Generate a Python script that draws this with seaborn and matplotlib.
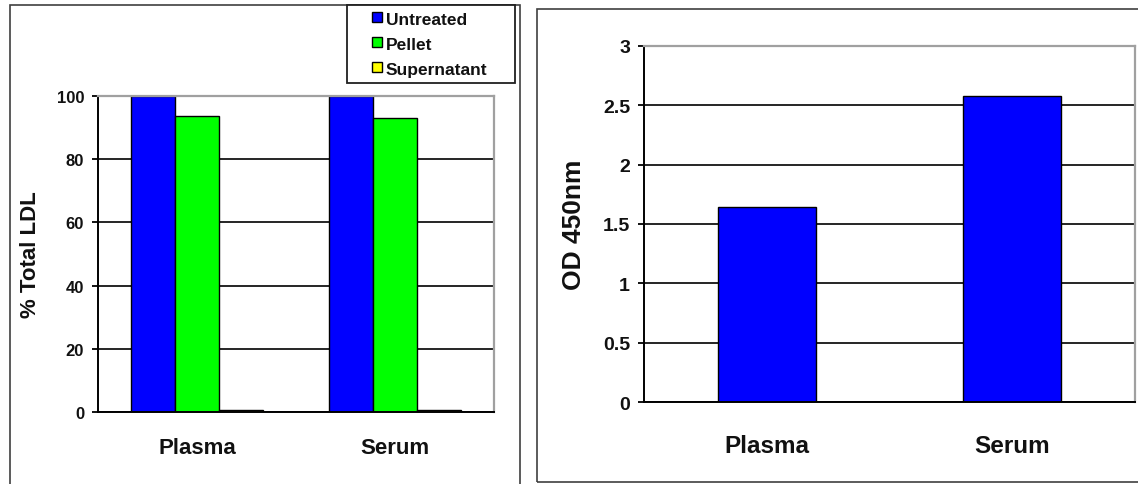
import matplotlib
matplotlib.use("Agg")
import matplotlib.pyplot as plt
from matplotlib.patches import Rectangle, Patch
import seaborn as sns
import pandas as pd

# ---- data ----
categories = ["Plasma", "Serum"]
treatments = ["Untreated", "Pellet", "Supernatant"]
untreated = [100, 100]
pellet = [93.7, 93.1]
supernatant = [0.6, 0.6]
od_values = [1.64, 2.58]
left_yticks = [0, 20, 40, 60, 80, 100]
right_yticks = [0, 0.5, 1, 1.5, 2, 2.5, 3]
right_yticklabels = ["0", "0.5", "1", "1.5", "2", "2.5", "3"]

colors = ["#0000FF", "#00FF00", "#FFFF00"]

sns.set_style("white")
plt.rcParams["font.family"] = ["Liberation Sans", "DejaVu Sans"]
plt.rcParams["font.weight"] = "bold"
TXT = "#111111"

W, H = 1138, 485
fig = plt.figure(figsize=(W / 100, H / 100), dpi=100)

def fx(px):
    return px / W

def fy(py):
    return 1 - py / H

# panel frames
fig.patches.append(Rectangle((fx(10), -0.05), fx(510), fy(6) + 0.05, transform=fig.transFigure,
                             fill=False, edgecolor="#404040", lw=1.2, zorder=0))
fig.patches.append(Rectangle((fx(537), fy(483)), fx(700), fy(10) - fy(483), transform=fig.transFigure,
                             fill=False, edgecolor="#404040", lw=1.2, zorder=0))

# ---- left chart ----
df = pd.DataFrame({
    "Sample": categories * 3,
    "Treatment": [t for t in treatments for _ in categories],
    "Value": untreated + pellet + supernatant,
})
ax1 = fig.add_axes([fx(98), fy(413), fx(494) - fx(98), fy(97) - fy(413)])
sns.barplot(data=df, x="Sample", y="Value", hue="Treatment", order=categories,
            hue_order=treatments, palette=colors, saturation=1, width=0.667, gap=0,
            edgecolor="black", linewidth=1.0, errorbar=None, legend=False, ax=ax1)

def style_axes(ax, ticks, ticklabels, ymax, tick_fs, cat_fs, cat_pad, ylabel, ylabel_fs, ylabel_x):
    ax.set_xlim(-0.5, 1.5)
    ax.set_ylim(0, ymax)
    ax.set_yticks(ticks)
    ax.set_yticklabels(ticklabels, fontsize=tick_fs, fontweight="bold", color=TXT)
    ax.set_xticks([0, 1])
    ax.set_xticklabels(categories, fontsize=cat_fs, fontweight="bold", color=TXT)
    ax.set_xticks([-0.5, 0.5, 1.5], minor=True)
    ax.tick_params(axis="x", which="major", length=0, pad=cat_pad)
    ax.tick_params(axis="x", which="minor", length=5, width=1.3, color="black", direction="out")
    ax.tick_params(axis="y", length=4.5, width=1.3, color="black", direction="out", pad=5.5, left=True)
    ax.set_xlabel("")
    ax.set_ylabel(ylabel, fontsize=ylabel_fs, fontweight="bold", color=TXT, va="center")
    ax.yaxis.set_label_coords(ylabel_x, 0.5)
    for s in ["left", "bottom"]:
        ax.spines[s].set_color("black")
        ax.spines[s].set_linewidth(1.4)
    for s in ["top", "right"]:
        ax.spines[s].set_color("#a0a0a0")
        ax.spines[s].set_linewidth(1.6)
        ax.spines[s].set_visible(True)
    ax.set_axisbelow(True)
    ax.yaxis.grid(True, color="black", linewidth=1.2)
    ax.xaxis.grid(False)
    ax.set_facecolor("white")

style_axes(ax1, left_yticks, [str(t) for t in left_yticks], 100, 12, 16, 18,
           "% Total LDL", 16, (31 - 98) / 396)


class SquareHandler:
    """Small square swatch placed at the right end of the handle box."""
    def legend_artist(self, legend, orig_handle, fontsize, handlebox):
        x0, y0 = handlebox.xdescent, handlebox.ydescent
        w, h = handlebox.width, handlebox.height
        s = 7.2
        patch = Rectangle((w - s - x0, (h - s) / 2 - y0 + 0.5), s, s,
                          facecolor=orig_handle.get_facecolor(), edgecolor="black",
                          linewidth=1.0, transform=handlebox.get_transform())
        handlebox.add_artist(patch)
        return patch


handles = [Patch(facecolor=c, edgecolor="black") for c in colors]
leg = fig.legend(handles, treatments, loc="upper left",
                 bbox_to_anchor=(fx(347), fy(83), fx(515) - fx(347), fy(6) - fy(83)),
                 mode="expand", borderaxespad=0, borderpad=0.4, handlelength=1.6,
                 handletextpad=0.25, labelspacing=0.55, fancybox=False, framealpha=1,
                 handler_map={Patch: SquareHandler()},
                 prop={"size": 12.5, "weight": "bold"})
leg.get_frame().set_edgecolor("#202020")
leg.get_frame().set_linewidth(1.3)
for t in leg.get_texts():
    t.set_color(TXT)

# ---- right chart ----
df2 = pd.DataFrame({"Sample": categories, "OD": od_values})
ax2 = fig.add_axes([fx(644), fy(403), fx(1135) - fx(644), fy(47) - fy(403)])
sns.barplot(data=df2, x="Sample", y="OD", order=categories, color="#0000FF",
            saturation=1, width=0.4, edgecolor="black", linewidth=1.0,
            errorbar=None, ax=ax2)
style_axes(ax2, right_yticks, right_yticklabels, 3, 14, 17.5, 23,
           "OD 450nm", 19, (574 - 644) / 491)

fig.savefig("out.png", dpi=100, facecolor="white")
